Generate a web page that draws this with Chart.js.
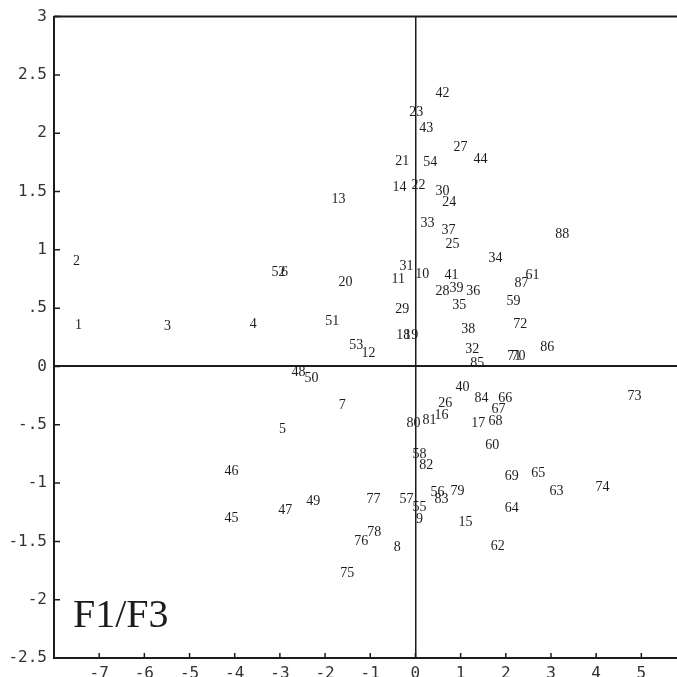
<!DOCTYPE html>
<html>
<head>
<meta charset="utf-8">
<script src="https://cdn.jsdelivr.net/npm/chart.js@4.4.0/dist/chart.umd.min.js"></script>
<style>
  html, body { margin: 0; padding: 0; background: #fff; }
  #wrap { width: 677px; height: 677px; position: relative; }
</style>
</head>
<body>
<div id="wrap"><canvas id="f1f3Chart"></canvas></div>
<script>
// observation numbers and their coordinates on factor 1 (x) and factor 3 (y)
const pointIds = [
    '1', '2', '3', '4', '5', '6', '7', '8', '9', '10',
    '11', '12', '13', '14', '15', '16', '17', '18', '19', '20',
    '21', '22', '23', '24', '25', '26', '27', '28', '29', '30',
    '31', '32', '33', '34', '35', '36', '37', '38', '39', '40',
    '41', '42', '43', '44', '45', '46', '47', '48', '49', '50',
    '51', '52', '53', '54', '55', '56', '57', '58', '59', '60',
    '61', '62', '63', '64', '65', '66', '67', '68', '69', '70',
    '71', '72', '73', '74', '75', '76', '77', '78', '79', '80',
    '81', '82', '83', '84', '85', '86', '87', '88'
];
const f1Values = [
    -7.46, -7.50, -5.49, -3.59, -2.94, -2.90, -1.62, -0.40, 0.09, 0.15,
    -0.38, -1.04, -1.70, -0.35, 1.11, 0.58, 1.39, -0.27, -0.09, -1.55,
    -0.29, 0.07, 0.02, 0.75, 0.82, 0.66, 1.00, 0.60, -0.29, 0.60,
    -0.20, 1.26, 0.27, 1.77, 0.97, 1.28, 0.73, 1.17, 0.91, 1.04,
    0.80, 0.60, 0.24, 1.44, -4.07, -4.07, -2.88, -2.59, -2.26, -2.30,
    -1.84, -3.03, -1.31, 0.33, 0.09, 0.49, -0.20, 0.09, 2.17, 1.70,
    2.59, 1.82, 3.12, 2.13, 2.72, 1.99, 1.84, 1.77, 2.13, 2.28,
    2.19, 2.32, 4.85, 4.14, -1.51, -1.20, -0.93, -0.91, 0.93, -0.04,
    0.31, 0.24, 0.58, 1.46, 1.37, 2.92, 2.35, 3.25
];
const f3Values = [
    0.35, 0.90, 0.34, 0.36, -0.54, 0.81, -0.33, -1.55, -1.31, 0.79,
    0.75, 0.11, 1.43, 1.54, -1.34, -0.42, -0.49, 0.27, 0.27, 0.72,
    1.76, 1.55, 2.18, 1.41, 1.05, -0.32, 1.88, 0.64, 0.49, 1.50,
    0.86, 0.15, 1.23, 0.93, 0.52, 0.64, 1.17, 0.32, 0.67, -0.18,
    0.78, 2.34, 2.04, 1.78, -1.30, -0.90, -1.23, -0.05, -1.16, -0.10,
    0.39, 0.81, 0.18, 1.75, -1.21, -1.08, -1.14, -0.75, 0.56, -0.68,
    0.78, -1.54, -1.07, -1.22, -0.92, -0.27, -0.37, -0.47, -0.94, 0.09,
    0.09, 0.36, -0.26, -1.04, -1.77, -1.50, -1.14, -1.42, -1.07, -0.49,
    -0.46, -0.85, -1.14, -0.27, 0.03, 0.16, 0.71, 1.13
];
const xTickValues = [-7, -6, -5, -4, -3, -2, -1, 0, 1, 2, 3, 4, 5];
const yTickValues = [-2.5, -2, -1.5, -1, -0.5, 0, 0.5, 1, 1.5, 2, 2.5, 3];
const panelTitle = 'F1/F3';

const inkColor = '#1c1c1c';
const tickFont = { family: 'DejaVu Sans Mono', size: 16 };

function yTickText(v) {
    // the original drops the leading zero: .5 and -.5
    if (v === 0.5) return '.5';
    if (v === -0.5) return '-.5';
    return String(v);
}

const points = pointIds.map((id, i) => ({ x: f1Values[i], y: f3Values[i] }));

// draws each observation number at its point, plus frame, inward ticks and title
const labelPlugin = {
    id: 'pointLabels',
    afterDatasetsDraw(chart) {
        const ctx = chart.ctx;
        const meta = chart.getDatasetMeta(0);
        ctx.save();
        ctx.fillStyle = inkColor;
        ctx.font = '14px "Liberation Serif"';
        ctx.textAlign = 'center';
        ctx.textBaseline = 'middle';
        meta.data.forEach((el, i) => {
            ctx.fillText(pointIds[i], el.x, el.y);
        });
        ctx.restore();
    },
    afterDraw(chart) {
        const ctx = chart.ctx;
        const area = chart.chartArea;
        const xs = chart.scales.x;
        const ys = chart.scales.y;
        ctx.save();
        ctx.strokeStyle = inkColor;
        // top edge of the frame
        ctx.lineWidth = 2;
        ctx.beginPath();
        ctx.moveTo(area.left, area.top);
        ctx.lineTo(area.right, area.top);
        ctx.stroke();
        // short tick marks pointing into the plot
        ctx.lineWidth = 1.5;
        ctx.beginPath();
        yTickValues.forEach(v => {
            const py = ys.getPixelForValue(v);
            ctx.moveTo(area.left, py);
            ctx.lineTo(area.left + 6, py);
        });
        xTickValues.forEach(v => {
            const px = xs.getPixelForValue(v);
            ctx.moveTo(px, area.bottom);
            ctx.lineTo(px, area.bottom - 5);
        });
        ctx.stroke();
        // panel title
        ctx.fillStyle = inkColor;
        ctx.font = '40px "Liberation Serif"';
        ctx.textAlign = 'left';
        ctx.textBaseline = 'alphabetic';
        ctx.fillText(panelTitle, 73, 627);
        ctx.restore();
    }
};

new Chart(document.getElementById('f1f3Chart').getContext('2d'), {
    type: 'scatter',
    data: {
        datasets: [{
            data: points,
            pointRadius: 0,
            pointHoverRadius: 0,
            showLine: false
        }]
    },
    options: {
        responsive: true,
        maintainAspectRatio: false,
        animation: false,
        events: [],
        layout: { padding: { top: 15, right: 0, bottom: 0, left: 0 } },
        plugins: {
            legend: { display: false },
            tooltip: { enabled: false }
        },
        scales: {
            x: {
                type: 'linear',
                min: -8,
                max: 5.79,
                afterBuildTicks: scale => {
                    scale.ticks = xTickValues.map(v => ({ value: v }));
                },
                afterFit: scale => { scale.height = 19; },
                grid: {
                    drawTicks: false,
                    color: c => (c.tick && c.tick.value === 0) ? inkColor : 'transparent',
                    lineWidth: 1.5
                },
                border: { display: true, color: inkColor, width: 2 },
                ticks: {
                    autoSkip: false,
                    maxRotation: 0,
                    padding: 6,
                    color: '#333',
                    font: tickFont
                }
            },
            y: {
                type: 'linear',
                min: -2.5,
                max: 3,
                afterBuildTicks: scale => {
                    scale.ticks = yTickValues.map(v => ({ value: v }));
                },
                afterFit: scale => { scale.width = 54; },
                grid: {
                    drawTicks: false,
                    color: c => (c.tick && c.tick.value === 0) ? inkColor : 'transparent',
                    lineWidth: 2
                },
                border: { display: true, color: inkColor, width: 2 },
                ticks: {
                    autoSkip: false,
                    padding: 7,
                    color: '#333',
                    font: tickFont,
                    callback: v => yTickText(v)
                }
            }
        }
    },
    plugins: [labelPlugin]
});
</script>
</body>
</html>
